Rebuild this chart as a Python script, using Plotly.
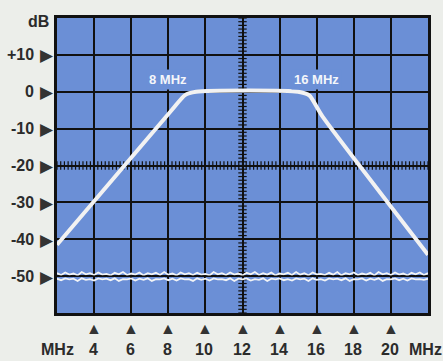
import numpy as np
import plotly.graph_objects as go

# filter response (MHz, dB)
RESP_FREQ = [2.0, 8.2, 8.9, 9.5, 15.0, 15.6, 16.3, 22.0]
RESP_DB = [-41.5, -4.9, -0.9, 0.0, 0.0, -1.0, -6.6, -44.2]

# noise floor (dB): upper ragged edge and lower edge
NOISE_UPPER = [-49.2, -49.7, -49.0, -49.6, -49.3, -49.8, -48.9, -49.5, -49.2, -49.7,
               -49.0, -49.6, -49.4, -49.8, -49.1, -49.5, -48.9, -49.7, -49.3, -49.6,
               -49.0, -49.8, -49.2, -49.5, -49.1, -49.7, -48.9, -49.6, -49.3, -49.8,
               -49.0, -49.5, -49.2, -49.7, -49.1, -49.6, -49.4, -49.8, -48.9, -49.5,
               -49.2, -49.7, -49.0, -49.6, -49.3, -49.8, -49.1, -49.5, -48.9, -49.7,
               -49.2, -49.6, -49.0, -49.8, -49.3, -49.5, -49.1, -49.7, -48.9, -49.6,
               -49.2, -49.8, -49.0, -49.5, -49.4, -49.7, -49.1, -49.6, -48.9, -49.8,
               -49.2, -49.5, -49.0, -49.7, -49.3, -49.6, -49.1, -49.8, -48.9, -49.5,
               -49.2, -49.7, -49.0, -49.6, -49.3, -49.8, -49.1, -49.5, -49.0, -49.7,
               -49.2]
NOISE_LOWER = [-50.7, -51.1, -50.6, -50.9, -50.7, -51.3, -50.6, -51.0, -50.8, -51.2,
               -50.6, -50.9, -50.7, -51.1, -50.6, -51.3, -50.8, -50.9, -50.6, -51.2,
               -50.7, -51.0, -50.6, -51.3, -50.8, -50.9, -50.6, -51.1, -50.7, -51.2,
               -50.6, -50.9, -50.8, -51.3, -50.6, -51.0, -50.7, -51.2, -50.6, -50.9,
               -50.8, -51.1, -50.6, -51.3, -50.7, -50.9, -50.6, -51.2, -50.8, -51.0,
               -50.6, -51.3, -50.7, -50.9, -50.6, -51.1, -50.8, -51.2, -50.6, -50.9,
               -50.7, -51.3, -50.6, -51.0, -50.8, -51.2, -50.6, -50.9, -50.7, -51.1,
               -50.6, -51.3, -50.8, -50.9, -50.6, -51.2, -50.7, -51.0, -50.6, -51.3,
               -50.8, -50.9, -50.6, -51.1, -50.7, -51.2, -50.6, -50.9, -50.8, -51.0,
               -50.7]

X_TICKS = [4, 6, 8, 10, 12, 14, 16, 18, 20]
Y_TICKS = [10, 0, -10, -20, -30, -40, -50]
Y_LABELS = ["+10", "0", "-10", "-20", "-30", "-40", "-50"]
MARKERS = [(8, "8 MHz"), (16, "16 MHz")]

BG = "#6b8fd6"
PAPER = "#eceeea"
TXT = "#2b2b2b"
FONT = "Liberation Sans Narrow, Liberation Sans, Arial, sans-serif"

fig = go.Figure()

# crosshair minor ticks (scope graticule)
hx = [2 + 0.2 * i for i in range(101)]
fig.add_trace(go.Scatter(x=hx, y=[-20] * len(hx), mode="markers",
                         marker=dict(symbol="line-ns", size=6, line=dict(width=1.2, color="#111")),
                         hoverinfo="skip"))
vy = [-60 + i for i in range(81)]
fig.add_trace(go.Scatter(x=[12] * len(vy), y=vy, mode="markers",
                         marker=dict(symbol="line-ew", size=6, line=dict(width=1.2, color="#111")),
                         hoverinfo="skip"))

for arr in (NOISE_UPPER, NOISE_LOWER):
    fig.add_trace(go.Scatter(x=np.linspace(2, 22, len(arr)), y=arr, mode="lines",
                             line=dict(color="#f2f4f6", width=1.8)))

fig.add_trace(go.Scatter(x=RESP_FREQ, y=RESP_DB, mode="lines",
                         line=dict(color="#f2f2f2", width=4, shape="spline", smoothing=0.6)))

# -50 grid line runs over the noise
fig.add_shape(type="line", x0=2, x1=22, y0=-50, y1=-50, line=dict(color="#111", width=1.5), layer="above")

for f, txt in MARKERS:
    fig.add_annotation(x=f, y=3.4, text="<b>%s</b>" % txt, showarrow=False,
                       font=dict(size=13, color="#f4f6fa", family=FONT),
                       bgcolor=BG, borderpad=2)

for v, lab in zip(Y_TICKS, Y_LABELS):
    fig.add_annotation(x=0, xref="paper", y=v, text="<b>%s</b>" % lab, showarrow=False,
                       xanchor="right", xshift=-21, font=dict(size=16, color=TXT, family=FONT))
    fig.add_annotation(x=0, xref="paper", y=v, text="▶", showarrow=False,
                       xanchor="center", xshift=-10, font=dict(size=17, color="#333"))

for f in X_TICKS:
    fig.add_annotation(x=f, y=0, yref="paper", text="▲", showarrow=False,
                       yanchor="middle", yshift=-15, font=dict(size=16, color="#333"))
    fig.add_annotation(x=f, y=0, yref="paper", text="<b>%d</b>" % f, showarrow=False,
                       yanchor="middle", yshift=-36, xshift=-1, font=dict(size=16, color=TXT, family=FONT))

fig.add_annotation(x=0, xref="paper", y=0, yref="paper", text="<b>MHz</b>", showarrow=False,
                   xanchor="center", yanchor="middle", yshift=-36, xshift=0,
                   font=dict(size=16, color=TXT, family=FONT))
fig.add_annotation(x=1, xref="paper", y=0, yref="paper", text="<b>MHz</b>", showarrow=False,
                   xanchor="center", yanchor="middle", yshift=-36, xshift=-3,
                   font=dict(size=16, color=TXT, family=FONT))
fig.add_annotation(x=0, xref="paper", y=1, yref="paper", text="<b>dB</b>", showarrow=False,
                   yanchor="middle", xanchor="center", yshift=-3, xshift=-19,
                   font=dict(size=16, color=TXT, family=FONT))

fig.update_layout(width=443, height=361, showlegend=False,
                  margin=dict(l=57, r=15, t=18, b=48),
                  paper_bgcolor=PAPER, plot_bgcolor=BG)
fig.update_xaxes(range=[2, 22], tick0=2, dtick=2, showgrid=True, gridcolor="#111", gridwidth=1.5,
                 showticklabels=False, zeroline=False, showline=True, linewidth=2.5,
                 linecolor="#111", mirror=True, ticks="")
fig.update_yaxes(range=[-60, 20], tick0=-60, dtick=10, showgrid=True, gridcolor="#111", gridwidth=1.5,
                 showticklabels=False, zeroline=False, showline=True, linewidth=2.5,
                 linecolor="#111", mirror=True, ticks="")

# the page body has a default 8px margin; drop it so the figure fills the window
fig.write_html("out.html", config={"displayModeBar": False},
               post_script="document.body.style.margin='0';")
